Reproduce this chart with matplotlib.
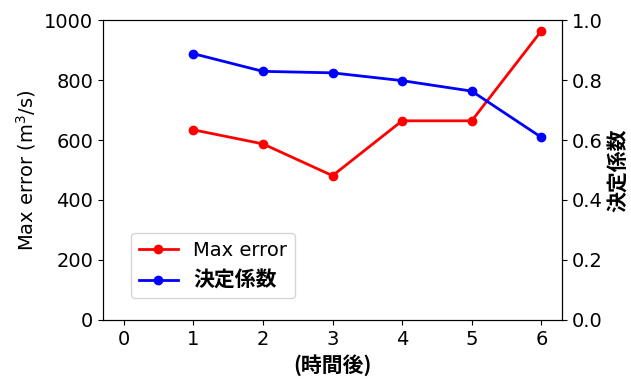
import matplotlib
matplotlib.use("Agg")
import matplotlib.pyplot as plt
from matplotlib.font_manager import FontProperties

hours = [1, 2, 3, 4, 5, 6]
max_error = [634, 587, 481, 664, 664, 964]
r2 = [0.888, 0.829, 0.824, 0.798, 0.763, 0.609]
x_ticks = [0, 1, 2, 3, 4, 5, 6]

plt.rcParams['font.family'] = ['DejaVu Sans', 'Noto Sans CJK JP']
plt.rcParams['font.size'] = 14
jp_bold = FontProperties(family=['Noto Sans CJK JP'], weight='bold', size=15)

fig = plt.figure(figsize=(6.31, 3.79), dpi=100)
ax1 = fig.add_axes([0.163, 0.156, 0.728, 0.791])
ax2 = ax1.twinx()

l1, = ax1.plot(hours, max_error, color='red', marker='o', markersize=6, lw=2, label='Max error')
l2, = ax2.plot(hours, r2, color='blue', marker='o', markersize=6, lw=2, label='決定係数')

ax1.set_xlim(-0.3, 6.3)
ax1.set_xticks(x_ticks)
ax1.set_ylim(0, 1000)
ax2.set_ylim(0, 1.0)
ax1.set_yticks(range(0, 1001, 200))
ax2.set_yticks([0, 0.2, 0.4, 0.6, 0.8, 1.0])

ax1.set_ylabel('Max error (m$^3$/s)', fontsize=14)
ax2.set_ylabel('決定係数', fontproperties=jp_bold)
ax1.set_xlabel('(時間後)', fontproperties=jp_bold)

leg = ax1.legend([l1, l2], ['Max error', '決定係数'], loc='lower left',
                 bbox_to_anchor=(0.04, 0.04), fontsize=14)
for t in leg.get_texts():
    if t.get_text() == '決定係数':
        t.set_fontproperties(jp_bold)

fig.savefig('out.png', dpi=100)
